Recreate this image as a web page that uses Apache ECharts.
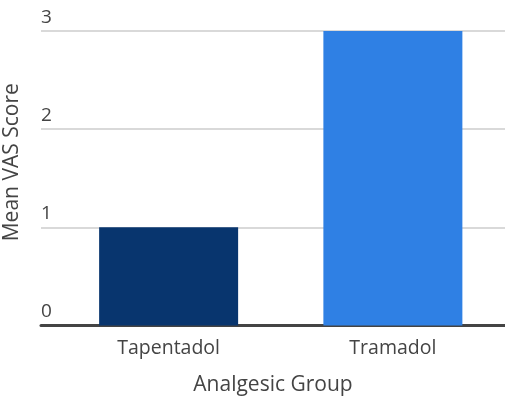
<!DOCTYPE html>
<html><head><meta charset="utf-8">
<script src="https://cdn.jsdelivr.net/npm/echarts@6/dist/echarts.min.js"></script>
<style>html,body{margin:0;padding:0;background:#fff}#c{width:505px;height:401px}</style>
</head><body><div id="c"></div>
<script>
const categories = ['Tapentadol', 'Tramadol'];
const values = [1.0, 3.0];
const barColors = ['#08356e', '#2f80e4'];
const yTicks = [0, 1, 2, 3];

const font = 'Open Sans';
const chart = echarts.init(document.getElementById('c'));
chart.setOption({
  animation: false,
  textStyle: { fontFamily: font },
  grid: [
    { left: 41, right: 0, top: 31, bottom: 75.5, outerBoundsMode: 'none', containLabel: false },
    { left: 56.5, right: 0, top: 31, bottom: 75.5, outerBoundsMode: 'none', containLabel: false }
  ],
  xAxis: [
    { gridIndex: 0, type: 'value', min: 0, max: 1, axisLabel: { show: false }, axisTick: { show: false }, splitLine: { show: false },
      axisLine: { show: true, onZero: false, lineStyle: { color: '#444', width: 3 } },
      name: 'Analgesic Group', nameLocation: 'middle', nameGap: 49,
      nameTextStyle: { fontSize: 21, color: '#444', fontFamily: font } },
    { gridIndex: 1, type: 'category', data: categories, axisLine: { show: false }, axisTick: { show: false },
      axisLabel: { fontSize: 19.5, color: '#444', margin: 13, fontFamily: font } }
  ],
  yAxis: [
    { gridIndex: 0, type: 'value', min: yTicks[0], max: yTicks[yTicks.length - 1], interval: 1,
      axisLine: { show: false }, axisTick: { show: false },
      splitLine: { show: true, lineStyle: { color: '#d9d9d9', width: 2 } },
      axisLabel: { inside: true, verticalAlign: 'bottom', margin: 0, padding: [0, 0, 4, 0], fontSize: 19, color: '#444', fontFamily: font },
      name: 'Mean VAS Score', nameLocation: 'middle', nameGap: 18, nameRotate: 90,
      nameTextStyle: { fontSize: 21, color: '#444', fontFamily: font, padding: [0, 0, 0, 32] } },
    { gridIndex: 1, type: 'value', min: yTicks[0], max: yTicks[yTicks.length - 1], interval: 1, show: false }
  ],
  series: [{
    type: 'bar', xAxisIndex: 1, yAxisIndex: 1, barWidth: 139,
    data: values.map((v, i) => ({ value: v, itemStyle: { color: barColors[i] } }))
  }]
});
</script></body></html>
